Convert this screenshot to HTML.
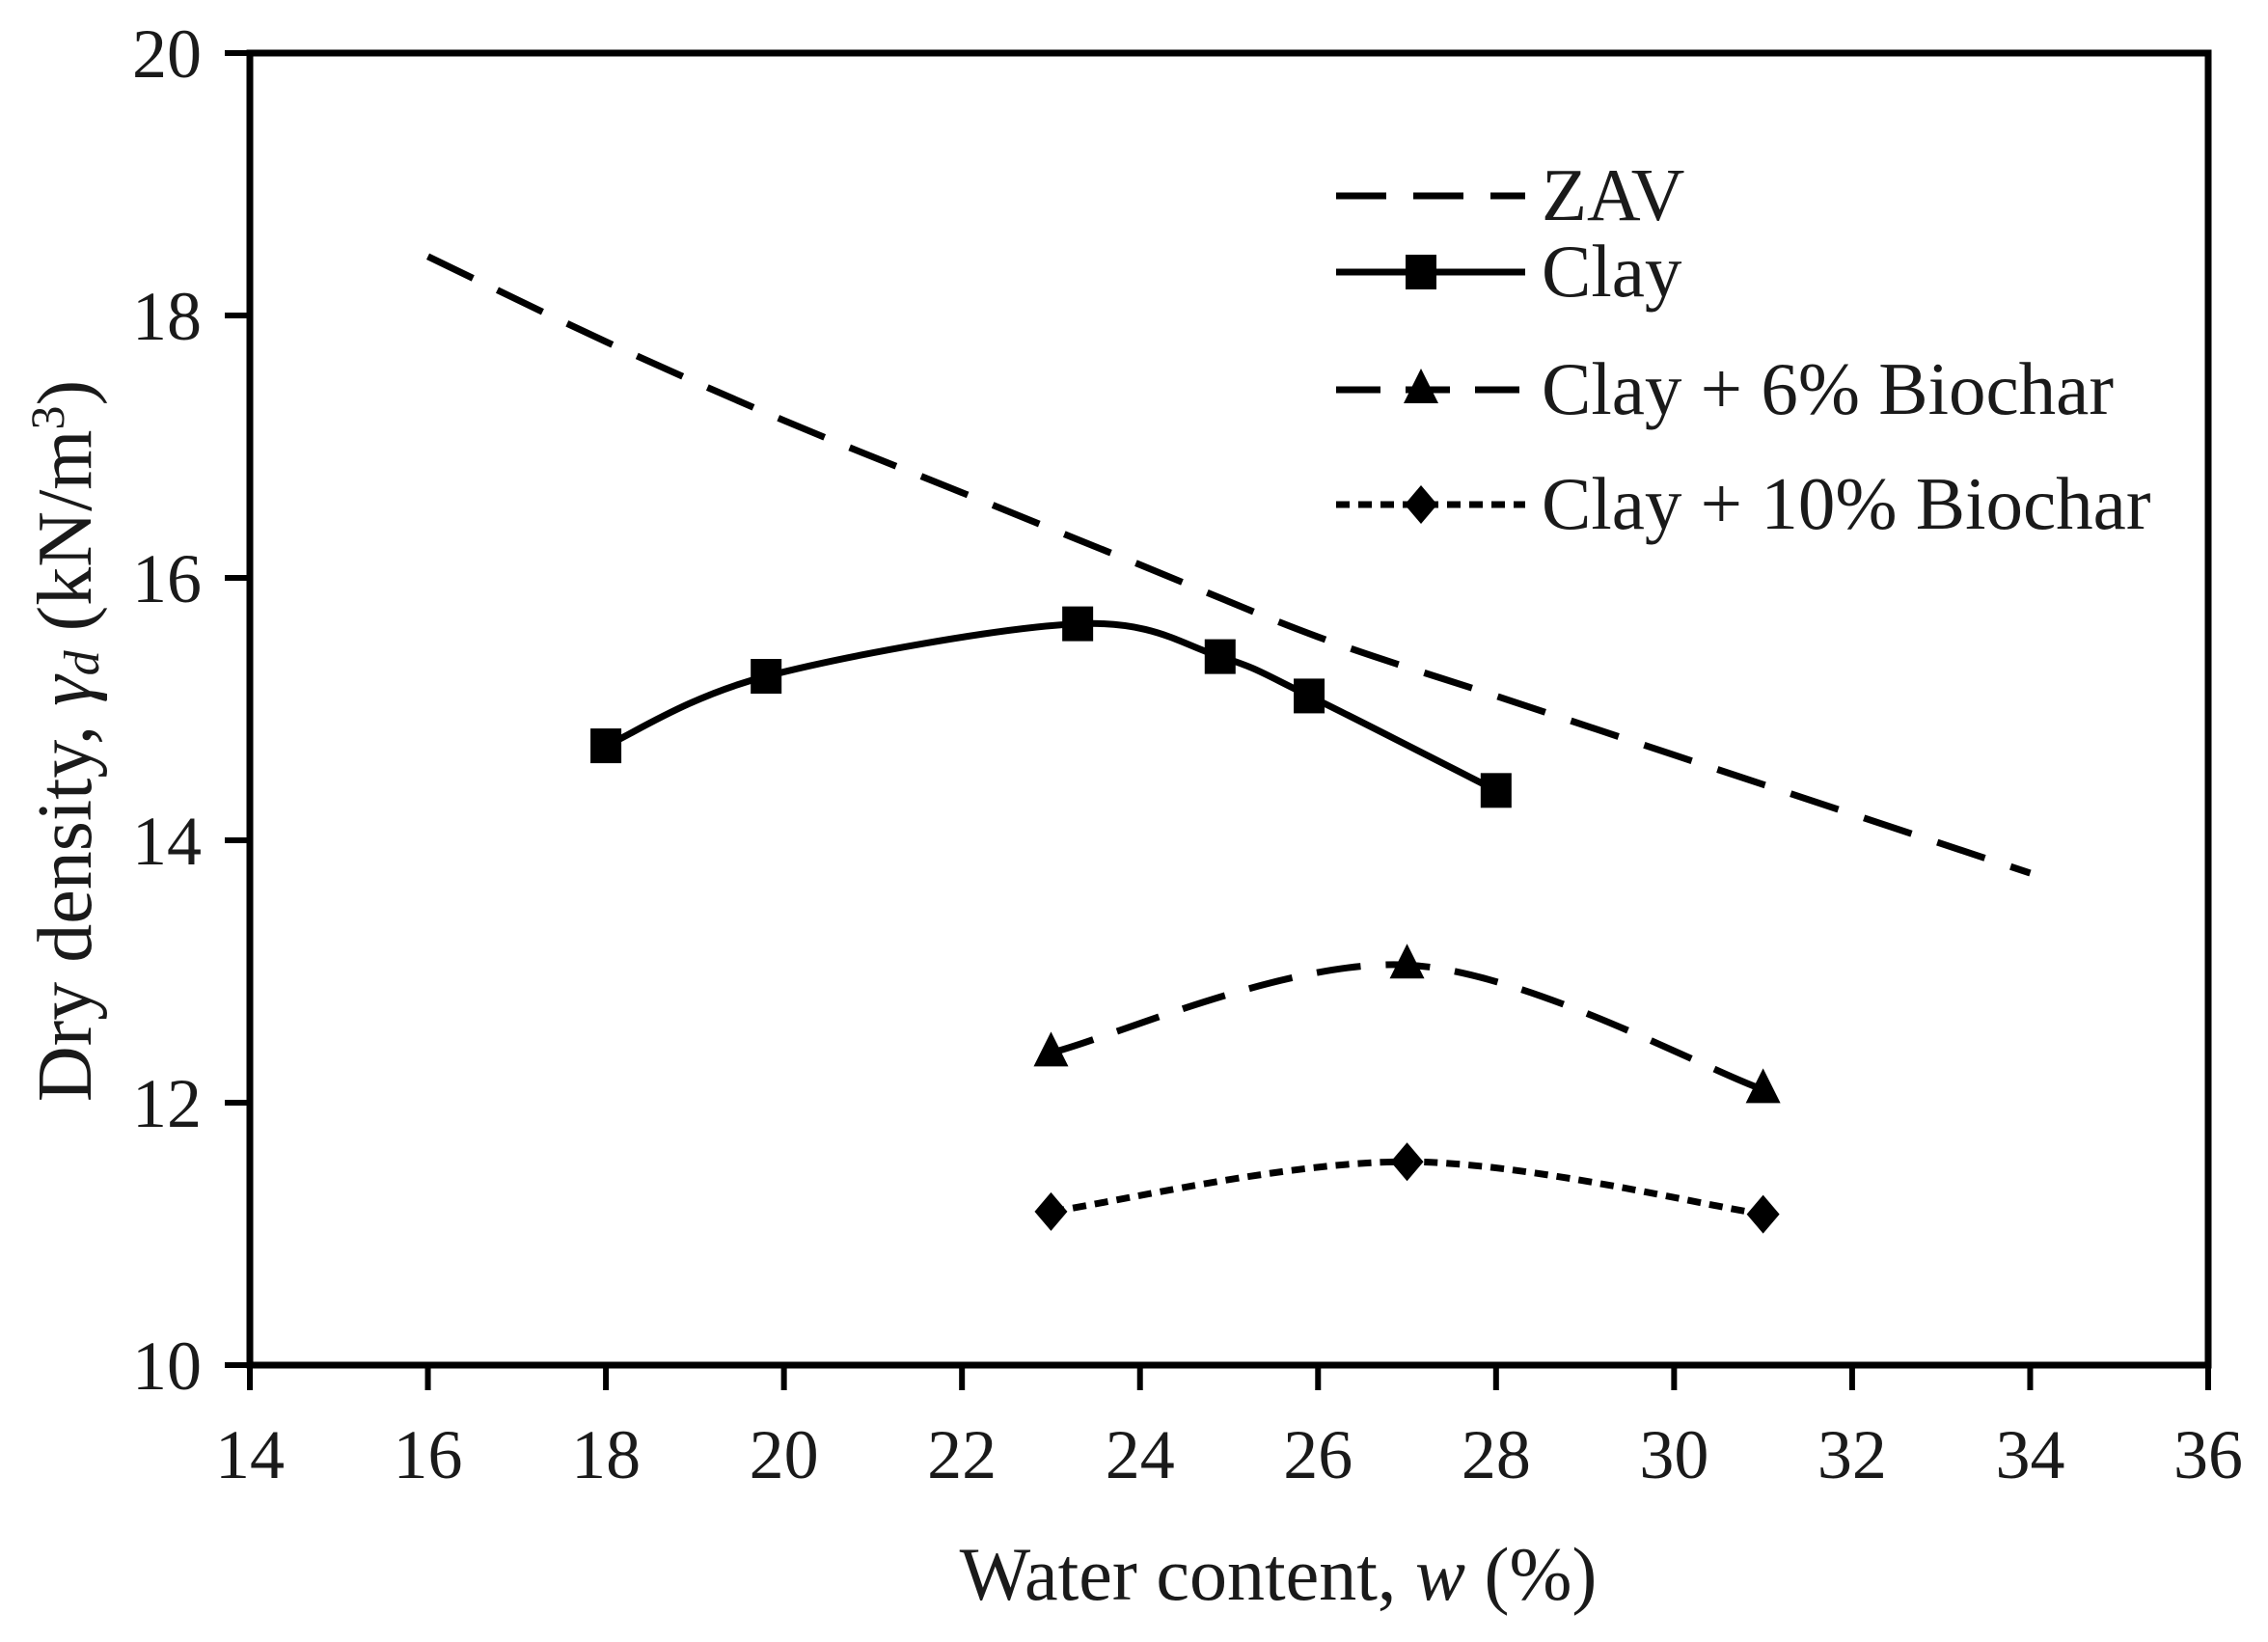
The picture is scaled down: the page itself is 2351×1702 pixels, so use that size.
<!DOCTYPE html>
<html><head><meta charset="utf-8"><style>
html,body{margin:0;padding:0;background:#fff;}
svg{display:block;}
text{font-family:"Liberation Serif",serif;fill:#1a1a1a;}
</style></head><body>
<svg id="chart" width="2351" height="1702" viewBox="0 0 2351 1702" xmlns="http://www.w3.org/2000/svg">
<g id="plot"></g>
</svg>
<script>
const xTicks = [14,16,18,20,22,24,26,28,30,32,34,36];
const yTicks = [10,12,14,16,18,20];
const zavX = [16,18,20,22,24,26,28,30,32,34];
const zavY = [18.45,17.8,17.2,16.65,16.1,15.55,15.1,14.65,14.2,13.75];
const clayX = [18,19.8,23.3,24.9,25.9,28];
const clayY = [14.72,15.25,15.65,15.4,15.1,14.38];
const b6X = [23,27,31];
const b6Y = [12.38,13.05,12.1];
const b10X = [23,27,31];
const b10Y = [11.17,11.55,11.15];

const X0=259, X1=2289, Y0=1415, Y1=55;
const xs = v => X0 + (v-14)/(36-14)*(X1-X0);
const ys = v => Y0 - (v-10)/(20-10)*(Y0-Y1);
const NS="http://www.w3.org/2000/svg";
const g=document.getElementById('plot');
function mk(tag, attrs, parent){const e=document.createElementNS(NS,tag);for(const k in attrs)e.setAttribute(k,attrs[k]);(parent||g).appendChild(e);return e;}

let frame=mk('rect',{x:X0,y:Y1,width:X1-X0,height:Y0-Y1,fill:'none',stroke:'#000','stroke-width':7});


xTicks.forEach(t=>{
  const tk=mk('line',{x1:xs(t),x2:xs(t),y1:Y0,y2:Y0+26,stroke:'#000','stroke-width':6});
  
  
  const lb=mk('text',{x:xs(t),y:Y0+117,'font-size':72,'text-anchor':'middle'});
  lb.textContent=t;
  
  
});
yTicks.forEach(t=>{
  const tk=mk('line',{x1:X0-26,x2:X0,y1:ys(t),y2:ys(t),stroke:'#000','stroke-width':6});
  
  
  const lb=mk('text',{x:X0-50,y:ys(t)+25,'font-size':72,'text-anchor':'end'});
  lb.textContent=t;
  
  
});

function smoothPath(xa,ya){
  const p=xa.map((x,i)=>[xs(x),ys(ya[i])]);
  let d='M'+p[0][0]+','+p[0][1];
  for(let i=0;i<p.length-1;i++){
    const p0=p[i-1]||p[i],p1=p[i],p2=p[i+1],p3=p[i+2]||p2;
    const t=0.5/3;
    const c1=[p1[0]+(p2[0]-p0[0])*t,p1[1]+(p2[1]-p0[1])*t];
    const c2=[p2[0]-(p3[0]-p1[0])*t,p2[1]-(p3[1]-p1[1])*t];
    d+=' C'+c1[0]+','+c1[1]+' '+c2[0]+','+c2[1]+' '+p2[0]+','+p2[1];
  }
  return d;
}
let zav=mk('path',{d:smoothPath(zavX,zavY),fill:'none',stroke:'#000','stroke-width':7,'stroke-dasharray':'52 28'});


let cl=mk('path',{d:smoothPath(clayX,clayY),fill:'none',stroke:'#000','stroke-width':7});


let l6=mk('path',{d:smoothPath(b6X,b6Y),fill:'none',stroke:'#000','stroke-width':7,'stroke-dasharray':'46 26'});


let l10=mk('path',{d:smoothPath(b10X,b10Y),fill:'none',stroke:'#000','stroke-width':7,'stroke-dasharray':'14 9'});



function square(cx,cy){return mk('rect',{x:cx-16,y:cy-18,width:32,height:36,fill:'#000'});}
function tri(cx,cy){return mk('polygon',{points:`${cx},${cy-22} ${cx+18},${cy+14} ${cx-18},${cy+14}`,fill:'#000'});}
function dia(cx,cy){return mk('polygon',{points:`${cx},${cy-20} ${cx+17},${cy} ${cx},${cy+20} ${cx-17},${cy}`,fill:'#000'});}
clayX.forEach((x,i)=>{const m=square(xs(x),ys(clayY[i]));
  
  });
b6X.forEach((x,i)=>{const m=tri(xs(x),ys(b6Y[i]));
  
  });
b10X.forEach((x,i)=>{const m=dia(xs(x),ys(b10Y[i]));
  
  });

const legY=[203,282,404,523];
const LX0=1385, LX1=1581;
let e;
e=mk('line',{x1:LX0,x2:LX1,y1:legY[0],y2:legY[0],stroke:'#000','stroke-width':7,'stroke-dasharray':'52 28'});


e=mk('line',{x1:LX0,x2:LX1,y1:legY[1],y2:legY[1],stroke:'#000','stroke-width':7});


e=square((LX0+LX1)/2-10,legY[1]);


e=mk('line',{x1:LX0,x2:LX1,y1:legY[2],y2:legY[2],stroke:'#000','stroke-width':7,'stroke-dasharray':'46 26'});


e=tri((LX0+LX1)/2-10,legY[2]);


e=mk('line',{x1:LX0,x2:LX1,y1:legY[3],y2:legY[3],stroke:'#000','stroke-width':7,'stroke-dasharray':'14 9'});


e=dia((LX0+LX1)/2-10,legY[3]);


const legLabels=['ZAV','Clay','Clay + 6% Biochar','Clay + 10% Biochar'];
legLabels.forEach((s,i)=>{const t=mk('text',{x:1598,y:legY[i]+25,'font-size':77});t.textContent=s;
  
  });

let xt=mk('text',{x:1325,y:1658,'font-size':78,'text-anchor':'middle'});
xt.innerHTML='Water content, <tspan font-style="italic">w</tspan> (%)';


let yt=mk('text',{x:0,y:0,'font-size':80,'text-anchor':'middle',transform:'translate(94,768) rotate(-90)'});
yt.innerHTML='Dry density, <tspan font-style="italic">γ</tspan><tspan font-style="italic" font-size="52" dy="8">d</tspan><tspan dy="-8"> (kN/m</tspan><tspan font-size="50" dy="-28">3</tspan><tspan dy="28">)</tspan>';


</script>
</body></html>
